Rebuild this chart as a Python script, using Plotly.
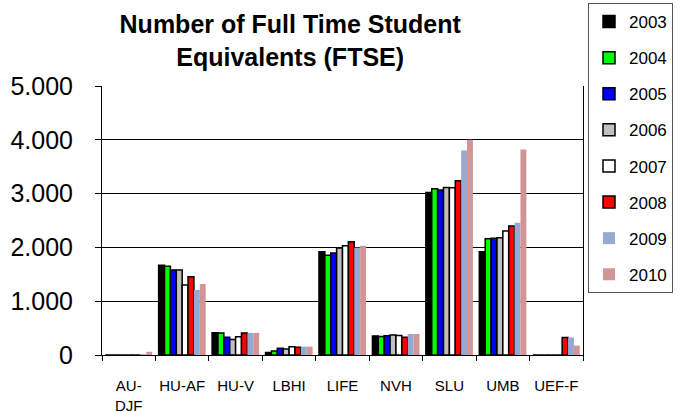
import plotly.graph_objects as go

categories = ["AU-<br>DJF", "HU-AF", "HU-V", "LBHI", "LIFE", "NVH", "SLU", "UMB", "UEF-F"]
years = ["2003", "2004", "2005", "2006", "2007", "2008", "2009", "2010"]

v2003 = [0, 1670, 415, 45, 1920, 355, 3020, 1920, 0]
v2004 = [0, 1650, 410, 75, 1855, 345, 3090, 2160, 0]
v2005 = [0, 1580, 330, 125, 1895, 360, 3065, 2170, 0]
v2006 = [0, 1580, 290, 110, 1990, 372, 3115, 2180, 0]
v2007 = [0, 1300, 340, 155, 2030, 362, 3110, 2305, 0]
v2008 = [0, 1455, 410, 145, 2105, 330, 3240, 2400, 325]
v2009 = [15, 1210, 410, 155, 1995, 390, 3800, 2460, 325]
v2010 = [60, 1320, 410, 155, 2030, 390, 4000, 3820, 175]

series = [v2003, v2004, v2005, v2006, v2007, v2008, v2009, v2010]
fills = ["#000000", "#00FF00", "#0000FF", "#C0C0C0", "#FFFFFF", "#FF0000", "#95A9D4", "#D29495"]
outlines = [1.5, 1.5, 1.5, 1.5, 1.5, 1.5, 0, 0]

y_ticks = [0, 1000, 2000, 3000, 4000, 5000]

FONT = "Arial, Liberation Sans, sans-serif"

fig = go.Figure()
for name, vals, col, lw in zip(years, series, fills, outlines):
    fig.add_trace(go.Bar(
        name=name, x=categories, y=vals, legendgroup=name,
        marker=dict(color=col, line=dict(color="#000000", width=lw)),
    ))

fig.update_layout(
    width=678, height=412,
    margin=dict(l=102, r=95, t=86, b=57, autoexpand=False),
    paper_bgcolor="white", plot_bgcolor="white",
    barmode="group", bargap=0.12, bargroupgap=0,
    separators=",.",
    font=dict(family=FONT, color="#000000"),
    title=dict(text="<b>Number of Full Time Student<br>Equivalents (FTSE)</b>",
               x=0.428, xanchor="center", y=1 - 33 / 412, yanchor="middle",
               yref="container",
               font=dict(size=25, family=FONT, color="#000000")),
    legend=dict(x=(588 - 102) / 481, xanchor="left", y=(355 - 3) / 269, yanchor="top",
                bordercolor="#555555", borderwidth=1, bgcolor="white",
                font=dict(size=17, family=FONT, color="#000000"),
                tracegroupgap=11, itemwidth=30, traceorder="grouped",
                maxheight=400),
    showlegend=True,
)
fig.update_xaxes(
    type="category", tickson="boundaries", ticks="outside", ticklen=5,
    tickcolor="#000000", showline=True, linecolor="#000000", linewidth=1,
    showgrid=False, tickfont=dict(size=15, family=FONT, color="#000000"),
    ticklabelstandoff=17, tickangle=0,
)
fig.update_yaxes(
    range=[0, 5000], tickvals=y_ticks, tickformat=",d",
    ticks="outside", ticklen=6, tickcolor="#000000",
    showline=True, linecolor="#000000", linewidth=1, mirror=True,
    showgrid=True, gridcolor="#000000", gridwidth=1, zeroline=False,
    tickfont=dict(size=25, family=FONT, color="#000000"),
    ticklabelstandoff=17,
)

fig.write_html("out.html", config={"displayModeBar": False},
               post_script="document.body.style.margin='0px';document.body.style.overflow='hidden';")
